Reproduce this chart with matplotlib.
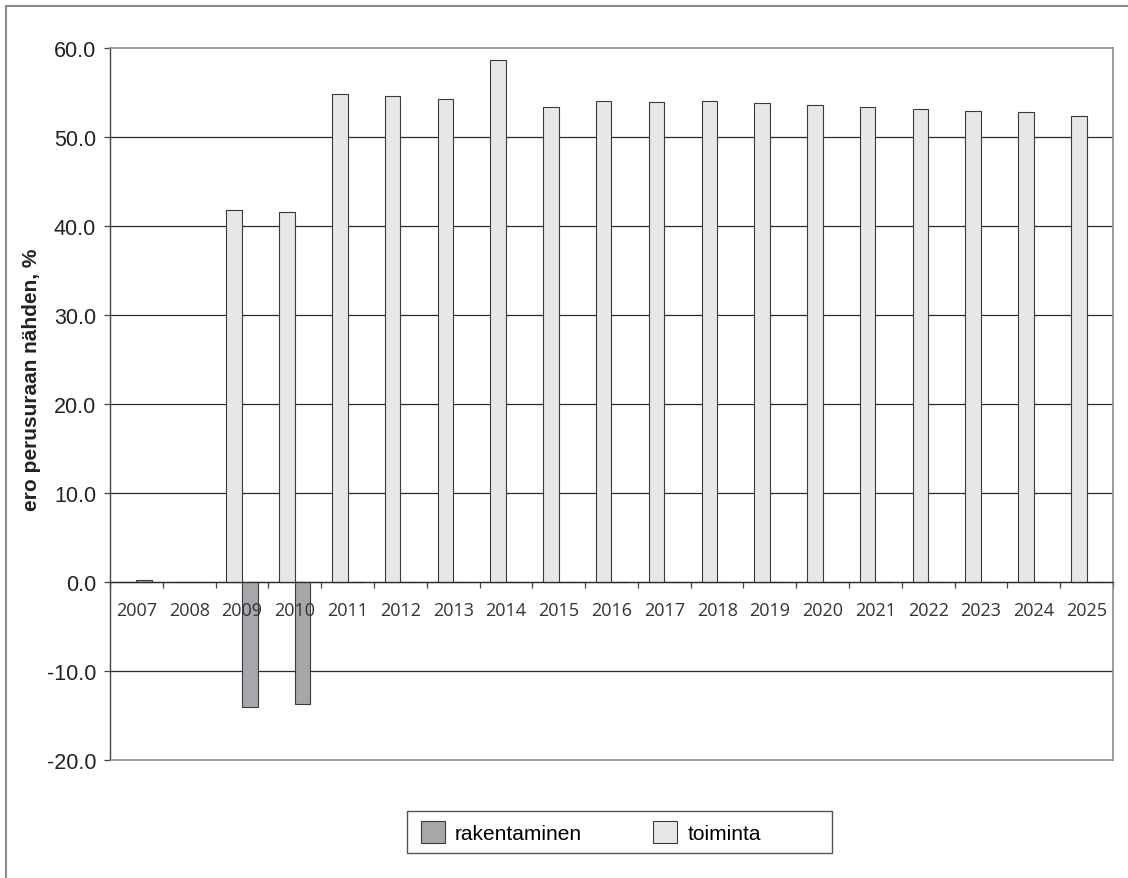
import matplotlib
matplotlib.use("Agg")
import matplotlib.pyplot as plt
import matplotlib.patches as mpatches
from matplotlib.lines import Line2D
import numpy as np

# values
years = [str(y) for y in range(2007, 2026)]
toiminta = [0.0, 0.0, 41.8, 41.6, 54.8, 54.6, 54.3, 58.6, 53.4, 54.0,
            53.9, 54.0, 53.8, 53.6, 53.4, 53.1, 52.9, 52.8, 52.4]
rakentaminen = [0.2, 0.0, -14.1, -13.7, 0.0, 0.0, 0.0, 0.0, 0.0, 0.0,
                0.0, 0.0, 0.0, 0.0, 0.0, 0.0, 0.0, 0.0, 0.0]
yticks = [-20, -10, 0, 10, 20, 30, 40, 50, 60]
series_names = ['rakentaminen', 'toiminta']

dark = '#a7a7ab'
light = '#e6e7e9'
edge = '#3a3a3a'
W, H = 1128, 879


def main():
    fig = plt.figure(figsize=(W / 100, H / 100), dpi=100)
    ax = fig.add_axes([110 / W, 1 - 761 / H, (1113 - 110) / W, (761 - 49) / H])

    x = np.arange(len(years))
    w = 0.295

    # horizontal grid lines behind the bars
    for t in yticks:
        if t in (yticks[0], yticks[-1]):
            continue
        ax.axhline(t, color='#2b2b2b', linewidth=0.9, zorder=0.5)

    ax.bar(x - w / 2, toiminta, width=w, color=light, edgecolor=edge,
           linewidth=0.8, zorder=1)
    ax.bar(x + w / 2, rakentaminen, width=w, color=dark, edgecolor=edge,
           linewidth=0.8, zorder=1)

    ax.set_xlim(-0.5, len(years) - 0.5)
    ax.set_ylim(-20, 60)
    ax.set_yticks(yticks, labels=[f'{t:.1f}' for t in yticks],
                  family='Liberation Sans', fontsize=15.5, color='#222222')
    ax.tick_params(axis='y', direction='out', length=4, width=0.9,
                   pad=6, color='#444444')

    # x axis sits on the zero line, category labels between boundary ticks
    ax.spines['bottom'].set_position(('data', 0))
    ax.spines['bottom'].set_color('#2b2b2b')
    ax.spines['bottom'].set_linewidth(0.9)
    ax.set_xticks(x, labels=years, family='Open Sans', fontsize=13,
                  color='#333333')
    ax.set_xticks(np.arange(len(years) + 1) - 0.5, minor=True)
    ax.tick_params(axis='x', which='major', length=0, pad=14)
    ax.tick_params(axis='x', which='minor', direction='out', length=4,
                   width=0.9, color='#444444')

    ax.spines['left'].set_color('#444444')
    ax.spines['left'].set_linewidth(1.0)
    for s in ('top', 'right'):
        ax.spines[s].set_color('#8c8c8c')
        ax.spines[s].set_linewidth(1.2)
    ax.axhline(yticks[0], color='#8c8c8c', linewidth=1.2, zorder=3,
               clip_on=False)

    fig.text(32 / W, 1 - 380 / H, 'ero perusuraan nähden, %', rotation=90,
             ha='center', va='center', family='Liberation Sans',
             fontsize=15, fontweight='bold', color='#222222')

    # legend box
    fig.add_artist(mpatches.Rectangle((407 / W, 1 - 854 / H), (832 - 407) / W,
                                      (854 - 812) / H, transform=fig.transFigure,
                                      facecolor='white', edgecolor='#555555',
                                      linewidth=1.0))
    handles = [mpatches.Patch(facecolor=dark, edgecolor=edge, linewidth=0.8),
               mpatches.Patch(facecolor=light, edgecolor=edge, linewidth=0.8)]
    fig.legend(handles, series_names, loc='center left',
               bbox_to_anchor=(406 / W, 1 - 833 / H), ncol=2, frameon=False,
               prop={'family': 'Liberation Sans', 'size': 15},
               handlelength=1.15, handleheight=1.3, handletextpad=0.5,
               columnspacing=3.4, borderpad=0.2)

    # outer chart border (left and top only, rest is cropped)
    fig.add_artist(Line2D([6 / W, 6 / W], [0, 1 - 7 / H], color='#8a8a8a',
                          linewidth=1.5, transform=fig.transFigure))
    fig.add_artist(Line2D([6 / W, 1], [1 - 7 / H, 1 - 7 / H], color='#8a8a8a',
                          linewidth=1.5, transform=fig.transFigure))

    fig.savefig('out.png', dpi=100, facecolor='white')
    plt.close(fig)
    return 0


if __name__ == "__main__":
    main()
